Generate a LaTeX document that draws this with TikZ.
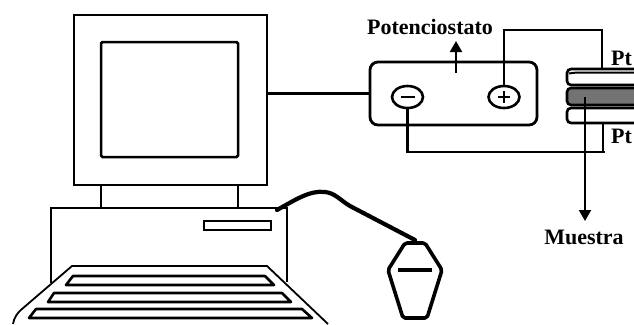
\documentclass[tikz,border=0pt]{standalone}
\usepackage{fontspec}
\setmainfont{Liberation Serif}
\usetikzlibrary{shapes.geometric,arrows.meta}
\begin{document}
\begin{tikzpicture}[x=1pt,y=-1pt,
  thinline/.style={line width=1.8pt},
  keyline/.style={line width=2.6pt, line join=round},
  wire/.style={line width=2.8pt},
  cable/.style={line width=4.2pt, line cap=round, line join=round},
  terminal/.style={draw, ellipse, line width=2.6pt, minimum width=31pt, minimum height=22pt, inner sep=0},
  disc/.style={draw, line width=2.6pt, rounded corners=4pt},
  lbl/.style={font=\fontsize{22}{25}\selectfont\bfseries, inner sep=0},
  pointer/.style={line width=2pt, -{Triangle[length=11pt,width=12pt]}},
]
\useasboundingbox (0,0) rectangle (634,324);

% monitor
\node[draw, thinline, minimum width=193pt, minimum height=170pt, inner sep=0, anchor=north west] (monitor) at (73,14) {};
\draw[line width=2.5pt, rounded corners=1.5pt] (101,42) rectangle (238,157);
% neck
\draw[thinline] (101,184) -- (101,208) (238,184) -- (238,208);
% base unit
\draw[thinline] (51,283) -- (51,208) -- (287,208) -- (287,282);
\draw[line width=2.3pt] (204,221) rectangle (271,230);

% keyboard
\draw[thinline] (13,324) .. controls (14,318) and (17,313) .. (22,309) -- (72,266) -- (267,266) -- (328,324);
\draw[keyline] (73,276) -- (265,276) -- (274,285) -- (66,285) -- cycle;
\draw[keyline] (54,293) -- (282,293) -- (291,302) -- (48,302) -- cycle;
\draw[keyline] (36,309) -- (302,309) -- (312,318) -- (29,318) -- cycle;

% mouse and its cable
\draw[cable] (277,210) .. controls (295,200) and (310,190) .. (325,192)
  .. controls (335,193) and (340,200) .. (350,206) -- (415,240);
\draw[line width=3.6pt, line join=round, rounded corners=2pt]
  (405,243) -- (425,243) -- (442,270) -- (427,318) -- (403,318) -- (388,270) -- cycle;
\draw[line width=4.5pt] (398,270) -- (432,270);

% potentiostat
\node[draw, wire, rounded corners=8pt, minimum width=167pt, minimum height=63pt, inner sep=0] (pot) at (453.5,93.5) {};
\node[terminal] (minus) at (407.5,97) {};
\node[terminal] (plus) at (504,97) {};
\draw[line width=1.2pt] (400.5,97) -- (414.5,97);
\draw[line width=1.2pt] (498,97) -- (510,97) (504,91) -- (504,103);
\draw[wire] (monitor.east |- pot.west) -- (pot.west);
\coordinate (potarrow) at (456,73);
\node[lbl, anchor=base] (potlabel) at (430,34) {Potenciostato};
\draw[pointer] (potarrow) -- (456,41);

% cell stack
\draw[disc, fill=white] (567,108) rectangle (670,123);
\draw[disc, fill=black!55] (567,88) rectangle (670,105);
\draw[disc, fill=white] (567,69) rectangle (670,85);
\draw[line width=2pt] (569,73.5) .. controls (575,72.5) .. (600,72.5) -- (670,72.5);
\coordinate (pttop) at (602,69);
\coordinate (ptbot) at (603,123);
\coordinate (sample) at (585,97);

% connections
\draw[wire] (plus.north) -- (plus.north |- 0,30) -- (602,30) -- (pttop);
\draw[wire] (minus.south) -- (minus.south |- 0,152) -- (605,152);
\draw[wire] (ptbot) -- (603,153);
\draw[pointer] (sample) -- (585,221);

% labels
\node[lbl, anchor=base west] (pt1) at (611,65) {Pt};
\node[lbl, anchor=base west] (pt2) at (611,143) {Pt};
\node[lbl, anchor=base] (muestra) at (584,244) {Muestra};
\end{tikzpicture}
\end{document}
